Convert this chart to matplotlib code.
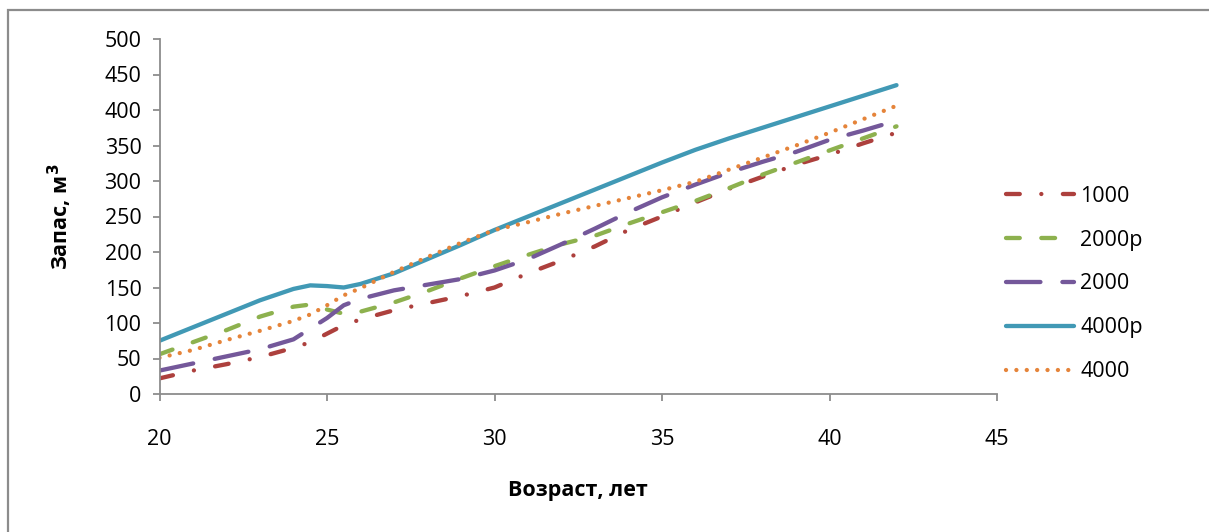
import matplotlib
matplotlib.use("Agg")
import matplotlib.pyplot as plt
from matplotlib.patches import Rectangle

# Stand age, years
ages = [20, 21, 22, 23, 24, 24.5, 25, 25.5, 26, 27, 28, 29, 30,
        31, 32, 33, 34, 35, 36, 37, 38, 39, 40, 41, 42]

# Growing stock, m3, per planting density
s1000 = [22, 33, 42, 52, 65, 73, 85, 97, 105, 118, 128, 138, 150,
         170, 188, 208, 231, 250, 270, 289, 306, 323, 337, 353, 368]
s2000p = [56, 73, 90, 109, 123, 126, 119, 113, 116, 129, 145, 163, 180,
          196, 211, 223, 240, 256, 272, 290, 309, 326, 343, 360, 377]
s2000 = [33, 43, 53, 63, 77, 92, 107, 125, 134, 146, 154, 162, 174,
         190, 211, 233, 256, 277, 295, 312, 327, 341, 358, 371, 385]
s4000p = [75, 94, 113, 132, 148, 153, 152, 150, 155, 170, 190, 210, 231,
          250, 269, 288, 307, 326, 344, 360, 375, 390, 405, 420, 435]
s4000 = [51, 62, 76, 89, 103, 112, 125, 139, 149, 172, 193, 213, 231,
         242, 254, 265, 276, 287, 299, 316, 333, 350, 368, 387, 406]

series_names = ["1000", "2000р", "2000", "4000р", "4000"]
x_ticks = [20, 25, 30, 35, 40, 45]
y_ticks = [0, 50, 100, 150, 200, 250, 300, 350, 400, 450, 500]

FONT = ["Open Sans", "DejaVu Sans"]
plt.rcParams["font.family"] = FONT
FS = 15.5

W, H = 1209, 532
fig = plt.figure(figsize=(W / 100, H / 100), dpi=100)
fig.patch.set_facecolor("white")

# chart frame (continues past the right and bottom edges)
fig.add_artist(Rectangle((8 / W, -0.2), 1.5, (H - 10) / H + 0.2,
                         transform=fig.transFigure, fill=False,
                         edgecolor="#8c8c8c", linewidth=1.6))

ax = fig.add_axes([159.5 / W, 1 - 394 / H, (997 - 159.5) / W, (394 - 39) / H])

lw = 3.1
styles = [
    ("#ad403d", [3.2, 5.0, 0.01, 5.0]),
    ("#8db14e", [3.2, 5.0]),
    ("#74589a", [8.0, 5.1]),
    ("#4199b5", None),
    ("#e5843a", [0.01, 2.4]),
]
data = [s1000, s2000p, s2000, s4000p, s4000]

for name, vals, (col, dash) in zip(series_names, data, styles):
    line, = ax.plot(ages, vals, color=col, linewidth=lw, label=name,
                    solid_capstyle="round", dash_capstyle="round",
                    solid_joinstyle="round", dash_joinstyle="round")
    if dash is not None:
        line.set_dashes(dash)

ax.set_xlim(20, 45)
ax.set_ylim(0, 500)
ax.set_xticks(x_ticks)
ax.set_yticks(y_ticks)
for side in ("top", "right"):
    ax.spines[side].set_visible(False)
for side in ("left", "bottom"):
    ax.spines[side].set_color("#8c8c8c")
    ax.spines[side].set_linewidth(1.3)
ax.tick_params(axis="both", colors="#8c8c8c", length=5, width=1.3,
               labelcolor="black", labelsize=FS)
ax.tick_params(axis="x", pad=20)
ax.tick_params(axis="y", pad=8)
ax.set_xticklabels([str(v) for v in x_ticks], fontsize=FS)
ax.set_yticklabels([str(v) for v in y_ticks], fontsize=FS)

ax.set_xlabel("Возраст, лет", fontsize=FS, fontweight="bold", labelpad=22)
ax.set_ylabel("Запас, м$^\\mathbf{3}$", fontsize=FS, fontweight="bold", labelpad=22)

leg = ax.legend(loc="center left", bbox_to_anchor=((1006 - 159.5) / 837.5, 0.31),
                frameon=False, fontsize=FS, handlelength=3.15, handletextpad=0.3,
                labelspacing=1.06, borderaxespad=0.0, borderpad=0.0)

fig.savefig("out.png", dpi=100, facecolor="white")
